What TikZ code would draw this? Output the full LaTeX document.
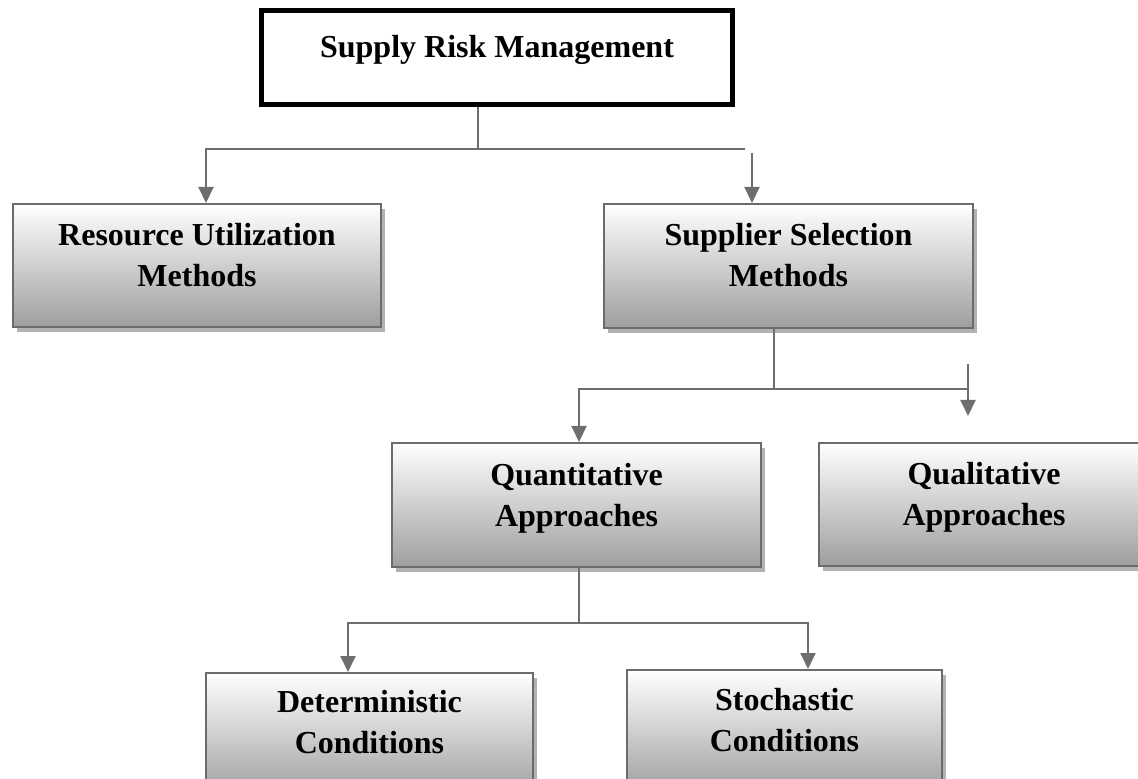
\documentclass[tikz,border=0pt]{standalone}
\usepackage{fontspec}
\setmainfont{Liberation Serif}
\usetikzlibrary{positioning, shadows, arrows.meta}

\tikzset{
   methodbox/.style={draw=black!58, line width=1pt, top color=white, bottom color=black!38,
      drop shadow={shadow xshift=2pt, shadow yshift=-2.5pt, fill=black!30, opacity=1}},
   topbox/.style={draw=black, line width=2.5pt, fill=white},
   boxtext/.style={inner sep=0pt, align=center, font=\bfseries\fontsize{16}{20.5}\selectfont},
   flowline/.style={draw=black!57, line width=1pt},
   flowarrow/.style={flowline, -{Triangle[width=7.5pt,length=8pt]}}
}

\begin{document}
\begin{tikzpicture}[x=0.5pt, y=-0.5pt]
   \fill[white] (0,0) rectangle (1138,779);
   \clip (0,0) rectangle (1138,779);

   \node[topbox, minimum width=235.5pt, minimum height=47pt] (srm) at (497,57.5) {};
   \node[boxtext, anchor=north] (srm-t) at ([yshift=-13.5pt]srm.north) {Supply Risk Management};

   \node[methodbox, minimum width=184pt, minimum height=61.5pt] (res) at (197,265.5) {};
   \node[boxtext, anchor=north] (res-t) at ([yshift=-10pt]res.north) {Resource Utilization\\Methods};

   \node[methodbox, minimum width=184.5pt, minimum height=62pt] (sup) at (788.5,266) {};
   \node[boxtext, anchor=north] (sup-t) at ([yshift=-10pt]sup.north) {Supplier Selection\\Methods};

   \node[methodbox, minimum width=184.5pt, minimum height=62pt] (quant) at (576.5,505) {};
   \node[boxtext, anchor=north] (quant-t) at ([yshift=-10.5pt]quant.north) {Quantitative\\Approaches};

   \node[methodbox, minimum width=165pt, minimum height=61.5pt] (qual) at (984,504.5) {};
   \node[boxtext, anchor=north] (qual-t) at ([yshift=-10pt]qual.north) {Qualitative\\Approaches};

   \node[methodbox, minimum width=163.5pt, minimum height=62pt] (det) at (369.5,735) {};
   \node[boxtext, anchor=north] (det-t) at ([yshift=-9pt]det.north) {Deterministic\\Conditions};

   \node[methodbox, minimum width=157.5pt, minimum height=62pt] (sto) at (784.5,732) {};
   \node[boxtext, anchor=north] (sto-t) at ([yshift=-9.5pt]sto.north) {Stochastic\\Conditions};

   \coordinate (j1) at (478,149);
   \coordinate (j1l) at (206,149);
   \coordinate (j1r) at (745,149);
   \coordinate (s1) at (752,153);
   \draw[flowline] (srm.south -| j1) -- (j1);
   \draw[flowarrow] (j1r) -- (j1l) -- (res.north -| j1l);
   \draw[flowarrow] (s1) -- (sup.north -| s1);

   \coordinate (j2) at (774,389);
   \coordinate (j2l) at (579,389);
   \coordinate (j2r) at (968,389);
   \coordinate (s2) at (968,364);
   \coordinate (e2) at (968,416);
   \draw[flowline] (sup.south -| j2) -- (j2);
   \draw[flowarrow] (j2r) -- (j2l) -- (quant.north -| j2l);
   \draw[flowarrow] (s2) -- (e2);

   \coordinate (j3) at (579,623);
   \coordinate (j3l) at (348,623);
   \coordinate (j3r) at (808,623);
   \draw[flowline] (quant.south -| j3) -- (j3);
   \draw[flowarrow] (j3) -- (j3l) -- (det.north -| j3l);
   \draw[flowarrow] (j3) -- (j3r) -- (sto.north -| j3r);
\end{tikzpicture}
\end{document}
